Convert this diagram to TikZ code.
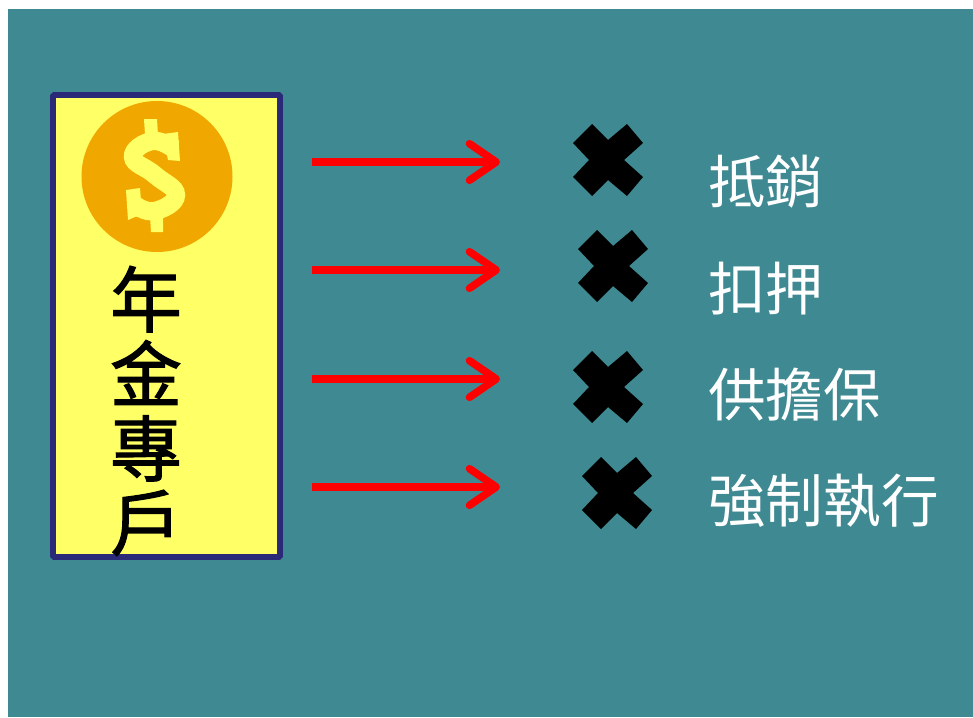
\documentclass[tikz,border=0pt]{standalone}
\usepackage{fontspec}
\newfontfamily\cjkfont{Noto Sans CJK TC}
\newfontfamily\cjkheavyfont[FakeBold=1.6]{Noto Sans CJK TC}
\usetikzlibrary{arrows.meta}
\usepackage{xcolor}
\definecolor{bgteal}{HTML}{3F8A92}
\definecolor{boxnavy}{HTML}{2A2A78}
\definecolor{boxyellow}{HTML}{FFFF66}
\definecolor{coinorange}{HTML}{F0A800}
\tikzset{
	banarrow/.style={red, line width=5.4pt, -{Straight Barb[length=19pt,width=26pt,round,line width=5.4pt]}},
	bantext/.style={white, anchor=west, inner sep=0pt, font=\cjkfont\fontsize{41}{41}\selectfont},
}

\begin{document}
\begin{tikzpicture}[x=0.25mm,y=-0.25mm]
			\useasboundingbox (0,0) rectangle (973,717);
			\fill[bgteal] (8,9) rectangle (973,717);
			\draw[boxnavy, line width=4.2pt, fill=boxyellow, rounded corners=1pt] (53,95) rectangle (280,557);
			\fill[coinorange] (157,176.5) circle[radius=75.5];
			% dollar sign of the coin
			\draw[boxyellow, line width=13pt] plot[smooth, tension=0.8] coordinates {(174,149) (152,141) (133,157) (155,175) (176,195) (155,211) (135,205)};
			\fill[boxyellow] (144,119) -- (157,119) -- (158,135) -- (145,135) -- cycle;
			\fill[boxyellow] (150,216) -- (163,216) -- (163,232) -- (151,232) -- cycle;
			\fill[boxyellow] (163,134) -- (178,132) -- (180,161) -- (168,160) -- cycle;
			\fill[boxyellow] (126,190) -- (140,188) -- (142,214) -- (128,220) -- cycle;
			\node[align=center, inner sep=0pt, font=\cjkheavyfont\fontsize{51}{53}\selectfont] (account) at (146,411) {年\\金\\專\\戶};
			\foreach \rowy/\crossx/\crossy/\word [count=\n] in {162/608/160/抵銷, 270/613/266/扣押, 379/608/387/供擔保, 487/617/493/強制執行}{
				\coordinate (from\n) at (312,\rowy);
				\coordinate (to\n) at (500,\rowy);
				\draw[banarrow] (from\n) -- (to\n);
				\fill[black] (\crossx,\crossy) ++(-16,-36) -- ++(16,16) -- ++(19,-16) -- ++(16,19) -- ++(-19,17) -- ++(19,17) -- ++(-16,19) -- ++(-19,-16) -- ++(-16,16) -- ++(-19,-19) -- ++(16,-17) -- ++(-16,-17) -- cycle;
				\node[bantext] (word\n) at (708,{182+106.4*(\n-1)}) {\word};
			}
			\end{tikzpicture}
\end{document}
